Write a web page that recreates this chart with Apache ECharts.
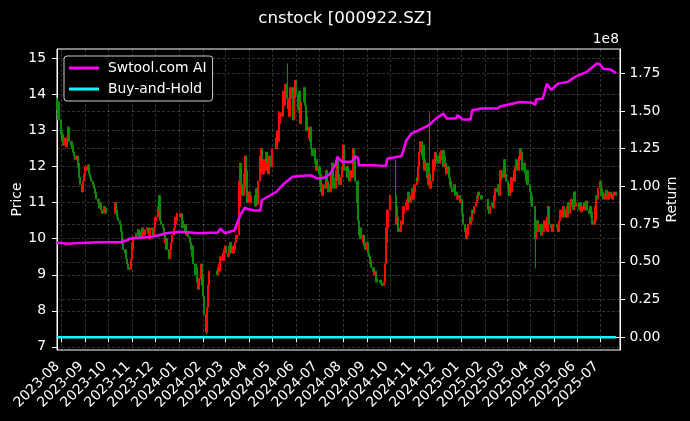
<!DOCTYPE html>
<html>
<head>
<meta charset="utf-8">
<script src="https://cdn.jsdelivr.net/npm/echarts@6/dist/echarts.min.js"></script>
<style>
  html, body { margin: 0; padding: 0; background: #000; }
  #chart { width: 690px; height: 421px; }
</style>
</head>
<body>
<div id="chart"></div>
<script>
// market closed on these weekdays
var holidays = [
  '2023-09-29', '2023-10-02', '2023-10-03', '2023-10-04', '2023-10-05', '2023-10-06',
  '2024-01-01', '2024-02-09', '2024-02-12', '2024-02-13', '2024-02-14', '2024-02-15', '2024-02-16',
  '2024-04-04', '2024-04-05', '2024-05-01', '2024-05-02', '2024-05-03', '2024-06-10',
  '2024-09-16', '2024-09-17', '2024-10-01', '2024-10-02', '2024-10-03', '2024-10-04', '2024-10-07',
  '2025-01-01', '2025-01-28', '2025-01-29', '2025-01-30', '2025-01-31', '2025-02-03', '2025-02-04',
  '2025-04-04', '2025-05-01', '2025-05-02', '2025-05-05', '2025-06-02'
];

// daily closes, one line per month
var firstOpen = 13.9;
var closes = [
  13.6, 13.8, 13.3, 13.0,                                                                   // 2023-07
  12.9, 12.7, 12.6, 12.8, 12.55, 12.8, 13.1, 12.9, 12.7, 12.6, 12.5, 12.4, 12.3, 12.2, 12.3,
  12.0, 12.1, 11.7, 11.5, 11.3, 11.6, 11.8, 11.9,                                           // 2023-08
  12.0, 11.9, 12.05, 11.8, 11.7, 11.6, 11.5, 11.4, 11.3, 11.25, 11.1, 11.0, 10.85, 11.0, 10.8,
  10.7, 10.9, 10.75, 10.85, 10.7,                                                           // 2023-09
  10.95, 11.0, 10.8, 10.6, 10.5, 10.4, 10.2, 10.0, 9.85, 9.7, 9.6, 9.45, 9.3, 9.2, 9.15,
  9.45, 9.7,                                                                                // 2023-10
  9.9, 10.05, 10.0, 10.15, 10.1, 10.25, 10.2, 10.05, 10.15, 10.3, 10.2, 10.1, 10.25, 10.3,
  10.15, 10.0, 10.2, 10.3, 10.25, 10.1, 10.3, 10.5,                                         // 2023-11
  10.6, 10.9, 11.2, 10.8, 10.5, 10.4, 10.3, 10.1, 9.9, 10.0, 9.7, 9.5, 9.45, 9.7, 9.9,
  10.1, 10.3, 10.4, 10.6, 10.5, 10.7,                                                       // 2023-12
  10.6, 10.7, 10.5, 10.3, 10.4, 10.2, 10.1, 10.2, 10.05, 9.9, 9.7, 9.8, 9.5, 9.3, 9.0,
  9.2, 8.8, 8.6, 8.9, 9.3, 9.0, 8.7,                                                        // 2024-01
  8.4, 7.9, 7.4, 8.1, 8.7, 9.1, 9.0, 9.2, 9.1, 9.3, 9.5, 9.4, 9.6, 9.7, 9.8,                // 2024-02
  9.6, 9.5, 9.8, 9.7, 9.9, 9.6, 9.8, 9.7, 9.9, 10.0, 10.1, 10.9, 11.6, 12.1, 11.5,
  11.2, 11.8, 12.3, 11.9, 11.4, 11.0,                                                       // 2024-03
  11.3, 11.0, 11.2, 10.9, 11.4, 11.1, 10.95, 11.6, 12.3, 12.5, 12.0, 11.8, 12.2, 12.4, 11.9,
  12.1, 11.8, 12.3, 12.0, 12.5,                                                             // 2024-04
  12.8, 13.0, 12.7, 13.2, 13.5, 13.4, 13.8, 14.1, 13.7, 14.3, 13.9, 13.6, 13.4, 13.9, 14.2,
  13.8, 13.3, 13.9, 14.4, 14.0,                                                             // 2024-05
  13.6, 14.1, 13.5, 13.2, 13.8, 14.2, 13.7, 13.4, 13.0, 12.8, 13.1, 12.7, 12.5, 12.3, 12.5,
  12.1, 12.2, 11.9, 12.0,                                                                   // 2024-06
  11.8, 11.5, 11.3, 11.2, 11.5, 11.4, 11.7, 11.9, 11.6, 11.3, 11.5, 11.8, 12.1, 11.7, 11.4,
  11.6, 11.9, 12.2, 11.8, 11.5, 11.7, 12.0, 12.3,                                           // 2024-07
  12.6, 11.9, 12.0, 11.7, 11.8, 11.6, 11.9, 11.7, 12.2, 12.5, 12.3, 11.6, 11.0, 10.5, 10.1,
  10.3, 10.0, 9.9, 10.1, 9.8, 9.7, 9.9,                                                     // 2024-08
  9.6, 9.5, 9.3, 9.4, 9.2, 9.1, 9.0, 9.1, 8.9, 8.8, 8.85, 8.75, 8.7, 8.8, 9.3,
  9.9, 10.3, 10.8, 11.2,                                                                    // 2024-09
  10.9, 10.4, 10.6, 10.2, 10.3, 10.5, 10.4, 10.7, 10.9, 11.0, 10.8, 11.1, 11.3, 11.0, 11.2,
  11.4, 11.1, 11.3,                                                                         // 2024-10
  11.5, 11.7, 11.6, 12.0, 12.4, 12.7, 12.3, 12.6, 12.2, 11.9, 12.1, 11.7, 11.5, 11.8, 11.4,
  11.6, 11.9, 12.2, 12.0, 12.4, 12.1,                                                       // 2024-11
  12.3, 12.1, 12.4, 12.2, 12.45, 12.0, 12.3, 12.1, 11.8, 12.0, 11.7, 11.5, 11.6, 11.4, 11.3,
  11.5, 11.2, 11.3, 11.1, 11.2, 11.0, 11.1,                                                 // 2024-12
  10.7, 10.4, 10.2, 10.0, 10.1, 10.3, 10.4, 10.6, 10.5, 10.8, 10.7, 10.9, 11.0, 11.2, 11.1,
  11.3, 11.2, 11.1,                                                                         // 2025-01
  10.8, 10.7, 10.9, 11.0, 10.85, 11.2, 11.1, 11.4, 11.3, 11.5, 11.2, 11.6, 11.9, 11.7, 12.1,
  12.2, 11.8, 11.6,                                                                         // 2025-02
  11.4, 11.2, 11.5, 11.3, 11.7, 11.9, 11.6, 12.0, 12.2, 11.9, 12.3, 12.5, 12.2, 12.4, 11.9,
  12.1, 11.8, 11.6, 11.9, 11.5, 11.3,                                                       // 2025-03
  11.2, 11.0, 10.9, 10.0, 10.3, 10.5, 10.2, 10.4, 10.3, 10.1, 10.4, 10.2, 10.5, 10.3, 10.2,
  10.6, 10.9, 10.4, 10.3, 10.2, 10.4,                                                       // 2025-04
  10.3, 10.2, 10.5, 10.8, 10.6, 10.9, 10.7, 10.8, 10.6, 10.9, 11.0, 10.7, 10.9, 11.1, 10.8,
  11.0, 11.3, 10.9, 11.0,                                                                   // 2025-05
  10.8, 11.0, 10.75, 10.9, 11.0, 10.8, 10.9, 11.05, 10.8, 10.7, 10.9, 10.75, 10.6, 10.4, 10.5,
  10.9, 11.2, 11.1, 11.4, 11.6,                                                             // 2025-06
  11.4, 11.2, 11.3, 11.1, 11.25, 11.35, 11.2, 11.1, 11.3, 11.15, 11.25, 11.1, 11.2, 11.3, 11.2 // 2025-07
];

// long shadows seen in the picture
var wickHigh = [['2024-05-20', 14.87], ['2024-10-08', 12.2], ['2024-11-21', 13.5]];
var wickLow = [['2024-02-05', 7.33], ['2025-04-07', 9.18]];

// strategy equity, in units of 1e8
var aiReturn = [
  ['2023-07-26', 0.627], ['2023-08-11', 0.62], ['2023-08-24', 0.625], ['2023-09-19', 0.63],
  ['2023-10-16', 0.63], ['2023-10-23', 0.64], ['2023-10-30', 0.655], ['2023-11-23', 0.665],
  ['2023-12-04', 0.675], ['2023-12-15', 0.69], ['2024-01-02', 0.70], ['2024-01-26', 0.69],
  ['2024-02-20', 0.695], ['2024-02-23', 0.72], ['2024-02-29', 0.69], ['2024-03-13', 0.71],
  ['2024-03-15', 0.745], ['2024-03-20', 0.81], ['2024-03-26', 0.86], ['2024-03-29', 0.85],
  ['2024-04-08', 0.84], ['2024-04-15', 0.84], ['2024-04-17', 0.91], ['2024-04-24', 0.93],
  ['2024-05-06', 0.965], ['2024-05-16', 1.02], ['2024-05-27', 1.064], ['2024-06-06', 1.07],
  ['2024-06-19', 1.075], ['2024-06-28', 1.053], ['2024-07-08', 1.06], ['2024-07-15', 1.086],
  ['2024-07-22', 1.15], ['2024-07-24', 1.196], ['2024-07-30', 1.163], ['2024-08-12', 1.163],
  ['2024-08-16', 1.2], ['2024-08-20', 1.19], ['2024-08-21', 1.14], ['2024-09-06', 1.14],
  ['2024-09-25', 1.135], ['2024-09-27', 1.185], ['2024-10-15', 1.2], ['2024-10-18', 1.24],
  ['2024-10-21', 1.30], ['2024-10-28', 1.35], ['2024-11-07', 1.373], ['2024-11-20', 1.406],
  ['2024-11-29', 1.45], ['2024-12-09', 1.483], ['2024-12-13', 1.45], ['2024-12-25', 1.45],
  ['2024-12-27', 1.472], ['2025-01-03', 1.444], ['2025-01-13', 1.444], ['2025-01-15', 1.505],
  ['2025-01-27', 1.517], ['2025-02-17', 1.517], ['2025-02-20', 1.53], ['2025-03-18', 1.56],
  ['2025-04-03', 1.555], ['2025-04-07', 1.54], ['2025-04-08', 1.576], ['2025-04-17', 1.583],
  ['2025-04-22', 1.68], ['2025-04-28', 1.64], ['2025-05-06', 1.68], ['2025-05-19', 1.693],
  ['2025-05-30', 1.73], ['2025-06-13', 1.76], ['2025-06-26', 1.815], ['2025-06-30', 1.81],
  ['2025-07-04', 1.78], ['2025-07-14', 1.775], ['2025-07-21', 1.75]
];
var buyHold = [['2023-07-26', 0], ['2025-07-21', 0]];

var monthTicks = [
  '2023-08', '2023-09', '2023-10', '2023-11', '2023-12', '2024-01', '2024-02', '2024-03',
  '2024-04', '2024-05', '2024-06', '2024-07', '2024-08', '2024-09', '2024-10', '2024-11',
  '2024-12', '2025-01', '2025-02', '2025-03', '2025-04', '2025-05', '2025-06', '2025-07'
];
var priceTicks = [7, 8, 9, 10, 11, 12, 13, 14, 15];
var returnTicks = [0, 0.25, 0.5, 0.75, 1.0, 1.25, 1.5, 1.75];

var FONT = 'DejaVu Sans';
var gridLine = { show: true, lineStyle: { color: 'rgba(255,255,255,0.32)', type: [3, 2], width: 0.6 } };

function ts(s) {
  var p = s.split('-');
  return new Date(+p[0], +p[1] - 1, p[2] ? +p[2] : 1).getTime();
}
function pad(n) { return n < 10 ? '0' + n : '' + n; }

var days = [];
for (var d = new Date(2023, 6, 26); d <= new Date(2025, 6, 21); d.setDate(d.getDate() + 1)) {
  var key = d.getFullYear() + '-' + pad(d.getMonth() + 1) + '-' + pad(d.getDate());
  if (d.getDay() === 0 || d.getDay() === 6 || holidays.indexOf(key) >= 0) continue;
  days.push(key);
}

var highMap = {}, lowMap = {};
wickHigh.forEach(function (w) { highMap[w[0]] = w[1]; });
wickLow.forEach(function (w) { lowMap[w[0]] = w[1]; });

var candles = [];
var n = Math.min(days.length, closes.length);
for (var i = 0; i < n; i++) {
  var o = i ? closes[i - 1] : firstOpen;
  var c = closes[i];
  var lo = Math.min(o, c), hi = Math.max(o, c);
  if (lowMap[days[i]] != null) lo = lowMap[days[i]];
  if (highMap[days[i]] != null) hi = highMap[days[i]];
  candles.push([ts(days[i]), o, c, lo, hi]);
}

function toSeries(arr) {
  return arr.map(function (p) { return [ts(p[0]), p[1]]; });
}

var monthTs = monthTicks.map(ts);

var myChart = echarts.init(document.getElementById('chart'));
myChart.setOption({
  backgroundColor: '#000',
  animation: false,
  textStyle: { fontFamily: FONT },
  title: {
    text: 'cnstock [000922.SZ]',
    left: 'center',
    top: 5,
    textStyle: { color: '#fff', fontSize: 16.7, fontWeight: 'normal', fontFamily: FONT }
  },
  graphic: [{
    type: 'text',
    right: 71,
    top: 32,
    style: { text: '1e8', fill: '#fff', font: '13.9px "DejaVu Sans"' }
  }],
  legend: {
    data: ['Swtool.com AI', 'Buy-and-Hold'],
    orient: 'vertical',
    left: 64,
    top: 56,
    icon: 'rect',
    itemWidth: 30,
    itemHeight: 3,
    itemGap: 7,
    padding: [5, 6, 5, 5],
    backgroundColor: 'rgba(0,0,0,0.8)',
    borderColor: '#ccc',
    borderWidth: 1,
    borderRadius: 3,
    textStyle: { color: '#fff', fontSize: 13.9, fontFamily: FONT, padding: [0, 0, 0, 4] }
  },
  grid: {
    left: 57, right: 70, top: 49, bottom: 71,
    containLabel: false,
    outerBoundsMode: 'none',
    show: true, borderColor: '#fff', borderWidth: 1
  },
  xAxis: {
    type: 'value',
    min: ts('2023-07-26'),
    max: ts('2025-07-26'),
    axisLine: { lineStyle: { color: '#fff' } },
    axisTick: { show: true, length: 5, lineStyle: { color: '#fff' }, customValues: monthTs },
    axisLabel: {
      color: '#fff', fontSize: 13.9, fontFamily: FONT, rotate: 45, margin: 10,
      padding: [0, 6, 0, 0],
      hideOverlap: false, customValues: monthTs,
      formatter: function (v) {
        var t = new Date(v);
        return t.getFullYear() + '-' + pad(t.getMonth() + 1);
      }
    },
    splitLine: gridLine
  },
  yAxis: [{
    type: 'value',
    min: 6.91,
    max: 15.27,
    name: 'Price',
    nameLocation: 'middle',
    nameRotate: 90,
    nameGap: 33,
    nameMoveOverlap: false,
    nameTextStyle: { color: '#fff', fontSize: 13.9, fontFamily: FONT },
    axisLine: { show: true, lineStyle: { color: '#fff' } },
    axisTick: { show: true, length: 5, lineStyle: { color: '#fff' }, customValues: priceTicks },
    axisLabel: { color: '#fff', fontSize: 13.9, fontFamily: FONT, margin: 11, customValues: priceTicks },
    splitLine: gridLine
  }, {
    type: 'value',
    min: -0.084,
    max: 1.911,
    name: 'Return',
    nameLocation: 'middle',
    nameRotate: 90,
    nameGap: 45,
    nameMoveOverlap: false,
    nameTextStyle: { color: '#fff', fontSize: 13.9, fontFamily: FONT },
    axisLine: { show: true, lineStyle: { color: '#fff' } },
    axisTick: { show: true, length: 5, lineStyle: { color: '#fff' }, customValues: returnTicks },
    axisLabel: {
      color: '#fff', fontSize: 13.9, fontFamily: FONT, margin: 9.5, customValues: returnTicks,
      formatter: function (v) { return v.toFixed(2); }
    },
    splitLine: gridLine
  }],
  series: [{
    type: 'candlestick',
    name: 'Price',
    xAxisIndex: 0,
    yAxisIndex: 0,
    barWidth: 1.8,
    itemStyle: {
      color: '#ff0a00', color0: '#0b8a0b',
      borderColor: '#ff0a00', borderColor0: '#0b8a0b', borderColorDoji: '#0b8a0b',
      borderWidth: 1
    },
    data: candles
  }, {
    type: 'line',
    name: 'Swtool.com AI',
    yAxisIndex: 1,
    symbol: 'none',
    lineStyle: { color: '#ff00ff', width: 2.5 },
    itemStyle: { color: '#ff00ff' },
    data: toSeries(aiReturn)
  }, {
    type: 'line',
    name: 'Buy-and-Hold',
    yAxisIndex: 1,
    symbol: 'none',
    lineStyle: { color: '#00ffff', width: 2.5 },
    itemStyle: { color: '#00ffff' },
    data: toSeries(buyHold)
  }]
});
</script>
</body>
</html>
